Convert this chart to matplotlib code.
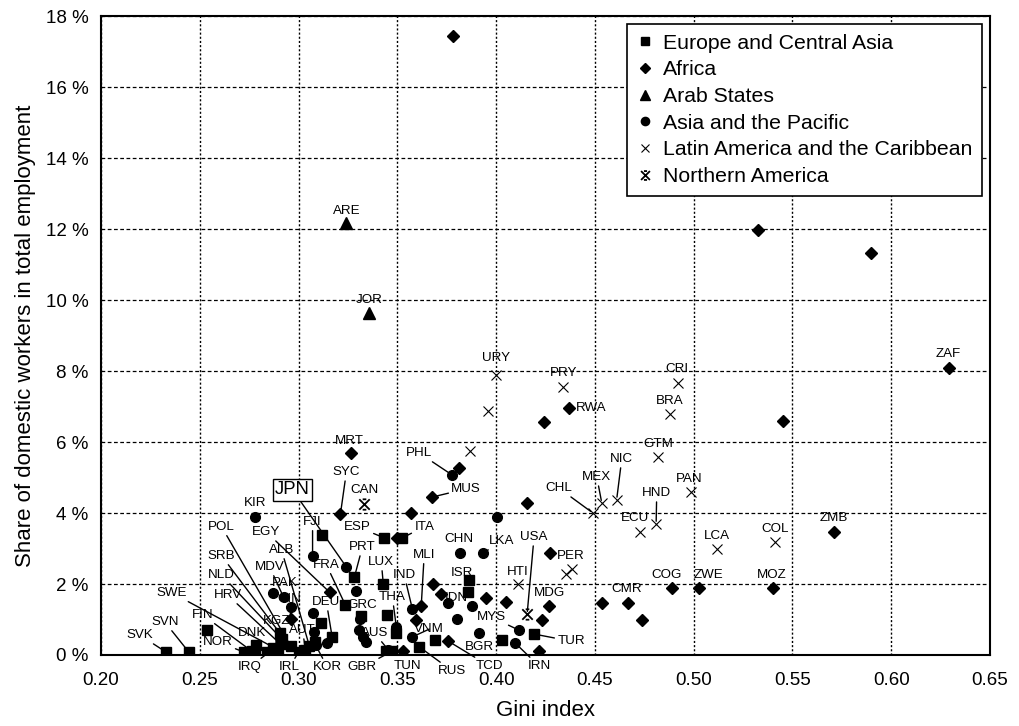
import matplotlib.pyplot as plt
from matplotlib.path import Path
from matplotlib.lines import Line2D
from matplotlib.ticker import FuncFormatter

plt.rcParams['font.family'] = ['Liberation Sans', 'DejaVu Sans']

# Europe and Central Asia
eca_code = ["SVK", "SVN", "", "NOR", "DNK", "FIN", "SWE", "HRV", "NLD", "SRB", "POL", "", "", "",
            "KGZ", "ALB", "AUT", "IRL", "", "", "", "FRA", "DEU", "PRT", "GRC", "ESP", "ITA", "LUX",
            "", "", "GBR", "", "RUS", "", "BGR", "TUR", "ISR", ""]
eca_gini = [0.233, 0.2445, 0.2535, 0.2725, 0.2785, 0.2765, 0.2895, 0.291, 0.2915, 0.2905, 0.296, 0.284, 0.287, 0.278,
            0.2885, 0.3055, 0.3035, 0.300, 0.3081, 0.3115, 0.3121, 0.3237, 0.317, 0.3283, 0.3318, 0.3434, 0.3525, 0.3429,
            0.345, 0.3495, 0.3475, 0.3444, 0.3611, 0.369, 0.403, 0.4192, 0.3865, 0.386]
eca_share = [0.08, 0.08, 0.70, 0.08, 0.28, 0.10, 0.15, 0.30, 0.45, 0.62, 0.25, 0.08, 0.20, 0.08,
             0.10, 0.25, 0.15, 0.08, 0.37, 0.90, 3.38, 1.41, 0.51, 2.20, 1.10, 3.30, 3.30, 2.00,
             1.13, 0.62, 0.11, 0.11, 0.23, 0.42, 0.42, 0.59, 2.11, 1.77]

# Africa
afr_code = ["", "", "", "ZAF", "", "RWA", "", "MRT", "", "MUS", "SYC", "", "", "", "ZMB", "",
            "COG", "ZWE", "MOZ", "CMR", "", "", "", "", "", "", "MDG", "", "MLI", "", "TCD", "",
            "EGY", "GIN", "TUN"]
afr_gini = [0.378, 0.5328, 0.590, 0.6293, 0.545, 0.437, 0.424, 0.3263, 0.3813, 0.3677, 0.3212, 0.357, 0.4157, 0.350, 0.5712, 0.4273,
            0.4889, 0.5025, 0.540, 0.467, 0.4535, 0.474, 0.368, 0.372, 0.395, 0.405, 0.4268, 0.423, 0.3621, 0.3595, 0.3758, 0.4215,
            0.3157, 0.296, 0.353]
afr_share = [17.45, 11.97, 11.33, 8.08, 6.59, 6.96, 6.56, 5.69, 5.27, 4.45, 3.97, 4.00, 4.28, 3.30, 3.46, 2.87,
             1.89, 1.89, 1.89, 1.46, 1.46, 0.99, 2.00, 1.72, 1.60, 1.49, 1.38, 0.99, 1.38, 0.99, 0.39, 0.11,
             1.77, 1.01, 0.11]

# Arab States
arb_code = ["ARE", "JOR", "IRQ"]
arb_gini = [0.3242, 0.3359, 0.2855]
arb_share = [12.17, 9.63, 0.10]

# Asia and the Pacific
asp_code = ["KIR", "FJI", "JPN", "PHL", "", "CHN", "LKA", "", "PAK", "MDV", "", "", "KOR", "", "",
            "THA", "", "", "", "", "IND", "IDN", "", "", "VNM", "", "MYS", "IRN", "AUS"]
asp_gini = [0.278, 0.3071, 0.3242, 0.3778, 0.4005, 0.3818, 0.3934, 0.329, 0.2869, 0.2924, 0.296, 0.3071, 0.3086, 0.3146, 0.3076,
            0.3495, 0.3313, 0.3308, 0.3328, 0.3343, 0.3576, 0.3758, 0.388, 0.380, 0.3576, 0.3915, 0.4116, 0.4096, 0.3455]
asp_share = [3.89, 2.79, 2.48, 5.07, 3.89, 2.87, 2.87, 1.80, 1.75, 1.63, 1.35, 1.18, 0.28, 0.34, 0.65,
             0.79, 1.01, 0.70, 0.51, 0.37, 1.30, 1.46, 1.38, 1.01, 0.51, 0.62, 0.70, 0.34, 0.14]

# Latin America and the Caribbean
lac_code = ["URY", "PRY", "", "", "CRI", "BRA", "GTM", "NIC", "MEX", "CHL", "PAN", "HND", "ECU",
            "LCA", "COL", "PER", "", "HTI"]
lac_gini = [0.400, 0.434, 0.396, 0.387, 0.492, 0.488, 0.482, 0.461, 0.4535, 0.449, 0.4985, 0.481, 0.473,
            0.512, 0.541, 0.4385, 0.4355, 0.411]
lac_share = [7.89, 7.55, 6.87, 5.75, 7.66, 6.79, 5.58, 4.37, 4.28, 4.00, 4.59, 3.69, 3.46,
             2.99, 3.18, 2.42, 2.28, 2.00]

# Northern America
nam_code = ["CAN", "USA"]
nam_gini = [0.3333, 0.4157]
nam_share = [4.25, 1.15]

# label positions (data coords)
label_pos = {
    "SVK": (0.2197, 0.56), "SVN": (0.2323, 0.93), "FIN": (0.2515, 1.13), "NOR": (0.2591, 0.37),
    "DNK": (0.2763, 0.62), "SWE": (0.2359, 1.75), "HRV": (0.2641, 1.69), "NLD": (0.2611, 2.25),
    "SRB": (0.2611, 2.79), "POL": (0.2611, 3.61), "MDV": (0.2854, 2.48), "EGY": (0.2838, 3.46),
    "ALB": (0.2914, 2.96), "PAK": (0.2929, 2.03), "GIN": (0.2955, 1.58), "KGZ": (0.2889, 0.96),
    "AUT": (0.3020, 0.70), "KIR": (0.2778, 4.28), "JPN": (0.2970, 4.65), "FJI": (0.3071, 3.75),
    "FRA": (0.3141, 2.54), "DEU": (0.3141, 1.49), "GRC": (0.3323, 1.41), "PRT": (0.3323, 3.04),
    "SYC": (0.3242, 5.15), "CAN": (0.3333, 4.65), "MRT": (0.3258, 6.03), "ESP": (0.3298, 3.61),
    "ITA": (0.3636, 3.61), "LUX": (0.3419, 2.62), "THA": (0.3475, 1.63), "AUS": (0.3384, 0.62),
    "GBR": (0.3323, -0.34), "KOR": (0.3146, -0.34), "IRL": (0.2955, -0.34), "IRQ": (0.2753, -0.34),
    "TUN": (0.3550, -0.31), "RUS": (0.3778, -0.45), "TCD": (0.3965, -0.31), "IRN": (0.4217, -0.31),
    "BGR": (0.3914, 0.23), "TUR": (0.4379, 0.39), "MYS": (0.3975, 1.07), "VNM": (0.3662, 0.73),
    "IND": (0.3535, 2.25), "MLI": (0.3636, 2.82), "IDN": (0.3798, 1.61), "ISR": (0.3828, 2.31),
    "CHN": (0.3813, 3.27), "LKA": (0.4030, 3.21), "USA": (0.4192, 3.32), "HTI": (0.4111, 2.34),
    "MDG": (0.4268, 1.75), "PER": (0.4379, 2.79), "GHA": (0.4510, 0.99), "CMR": (0.4662, 1.86),
    "COG": (0.4864, 2.25), "ZWE": (0.5076, 2.25), "MOZ": (0.5394, 2.25), "ZMB": (0.5707, 3.86),
    "COL": (0.5414, 3.55), "LCA": (0.5116, 3.35), "ECU": (0.4702, 3.86), "HND": (0.4813, 4.56),
    "PAN": (0.4975, 4.96), "CHL": (0.4318, 4.70), "MEX": (0.4510, 5.01), "NIC": (0.4636, 5.52),
    "GTM": (0.4823, 5.94), "BRA": (0.4879, 7.15), "CRI": (0.4914, 8.06), "RWA": (0.4480, 6.96),
    "PRY": (0.4343, 7.94), "URY": (0.4000, 8.37), "PHL": (0.3611, 5.69), "MUS": (0.3848, 4.68),
    "ZAF": (0.6288, 8.48), "ARE": (0.3242, 12.51), "JOR": (0.3359, 10.00),
}
leaders = {"SVK", "SVN", "FIN", "NOR", "DNK", "SWE", "HRV", "NLD", "SRB", "POL", "MDV", "EGY", "ALB",
           "GIN", "KGZ", "AUT", "JPN", "FJI", "FRA", "DEU", "PRT", "SYC", "ESP", "ITA", "LUX", "THA",
           "AUS", "GBR", "KOR", "IRL", "IRQ", "RUS", "TCD", "IRN", "BGR", "TUR", "MYS", "VNM", "IND",
           "MLI", "USA", "LKA", "GHA", "CHL", "MEX", "NIC", "HND", "PHL", "MUS"}

na_marker = Path([(-1, -1), (1, 1), (-1, 1), (1, -1), (-0.35, 1), (0.35, 1), (-0.35, -1), (0.35, -1)],
                 [Path.MOVETO, Path.LINETO] * 4)

regions = [
    ("Europe and Central Asia", eca_code, eca_gini, eca_share, dict(marker="s", ms=6.5, color="black")),
    ("Africa", afr_code, afr_gini, afr_share, dict(marker="D", ms=6, color="black")),
    ("Arab States", arb_code, arb_gini, arb_share, dict(marker="^", ms=8, color="black")),
    ("Asia and the Pacific", asp_code, asp_gini, asp_share, dict(marker="o", ms=7, color="black")),
    ("Latin America and the Caribbean", lac_code, lac_gini, lac_share,
     dict(marker="x", ms=7.5, color="black", mew=0.8)),
    ("Northern America", nam_code, nam_gini, nam_share,
     dict(marker=na_marker, ms=7.5, color="black", mfc="none", mew=1.3)),
]

fig = plt.figure(figsize=(10.2, 7.26), dpi=100)
ax = fig.add_axes([0.099, 0.0978, 0.8716, 0.880])

handles = []
for name, codes, g, s, style in regions:
    ax.plot(g, s, linestyle="none", zorder=3, **style)
    lstyle = dict(style)
    lstyle["ms"] = style["ms"] * 0.85
    handles.append(Line2D([], [], linestyle="none", label=name, **lstyle))
    for c, xg, ys in zip(codes, g, s):
        if c == "" or c not in label_pos:
            continue
        tx, ty = label_pos[c]
        fs = 9.6
        bbox = None
        if c == "JPN":
            fs = 13.3
            bbox = dict(boxstyle="square,pad=0.12", fc="white", ec="black", lw=1)
        if c in leaders:
            ax.annotate(c, xy=(xg, ys), xytext=(tx, ty), textcoords="data", ha="center", va="center",
                        fontsize=fs, bbox=bbox, annotation_clip=False, zorder=4,
                        arrowprops=dict(arrowstyle="-", lw=1.0, color="black", shrinkA=0, shrinkB=2))
        else:
            ax.text(tx, ty, c, ha="center", va="center", fontsize=fs, zorder=4, bbox=bbox)

ax.set_xlim(0.20, 0.65)
ax.set_ylim(0, 18)
ax.set_xticks([0.20, 0.25, 0.30, 0.35, 0.40, 0.45, 0.50, 0.55, 0.60, 0.65])
ax.set_yticks(range(0, 19, 2))
ax.xaxis.set_major_formatter(FuncFormatter(lambda v, p: "%.2f" % v))
ax.yaxis.set_major_formatter(FuncFormatter(lambda v, p: "%d %%" % v))
ax.tick_params(axis="x", length=0, labelsize=13.5, pad=12.5)
ax.tick_params(axis="y", length=0, labelsize=13.5, pad=9)
ax.set_axisbelow(True)
ax.xaxis.grid(True, color="black", lw=1.0, linestyle=(0, (1.5, 1.5)))
ax.yaxis.grid(True, color="black", lw=0.9, linestyle=(0, (3, 2)))
for sp in ax.spines.values():
    sp.set_linewidth(1.5)
    sp.set_color("black")

ax.set_xlabel("Gini index", fontsize=16, labelpad=8)
ax.set_ylabel("Share of domestic workers in total employment", fontsize=16, labelpad=7)

leg = ax.legend(handles=handles, loc="upper right", fontsize=15.3, frameon=True, fancybox=False,
                edgecolor="black", framealpha=1, handlelength=0.8, handletextpad=0.45,
                labelspacing=0.36, borderpad=0.45, borderaxespad=0.38)
leg.get_frame().set_linewidth(1.2)

fig.savefig("out.png", dpi=100)
